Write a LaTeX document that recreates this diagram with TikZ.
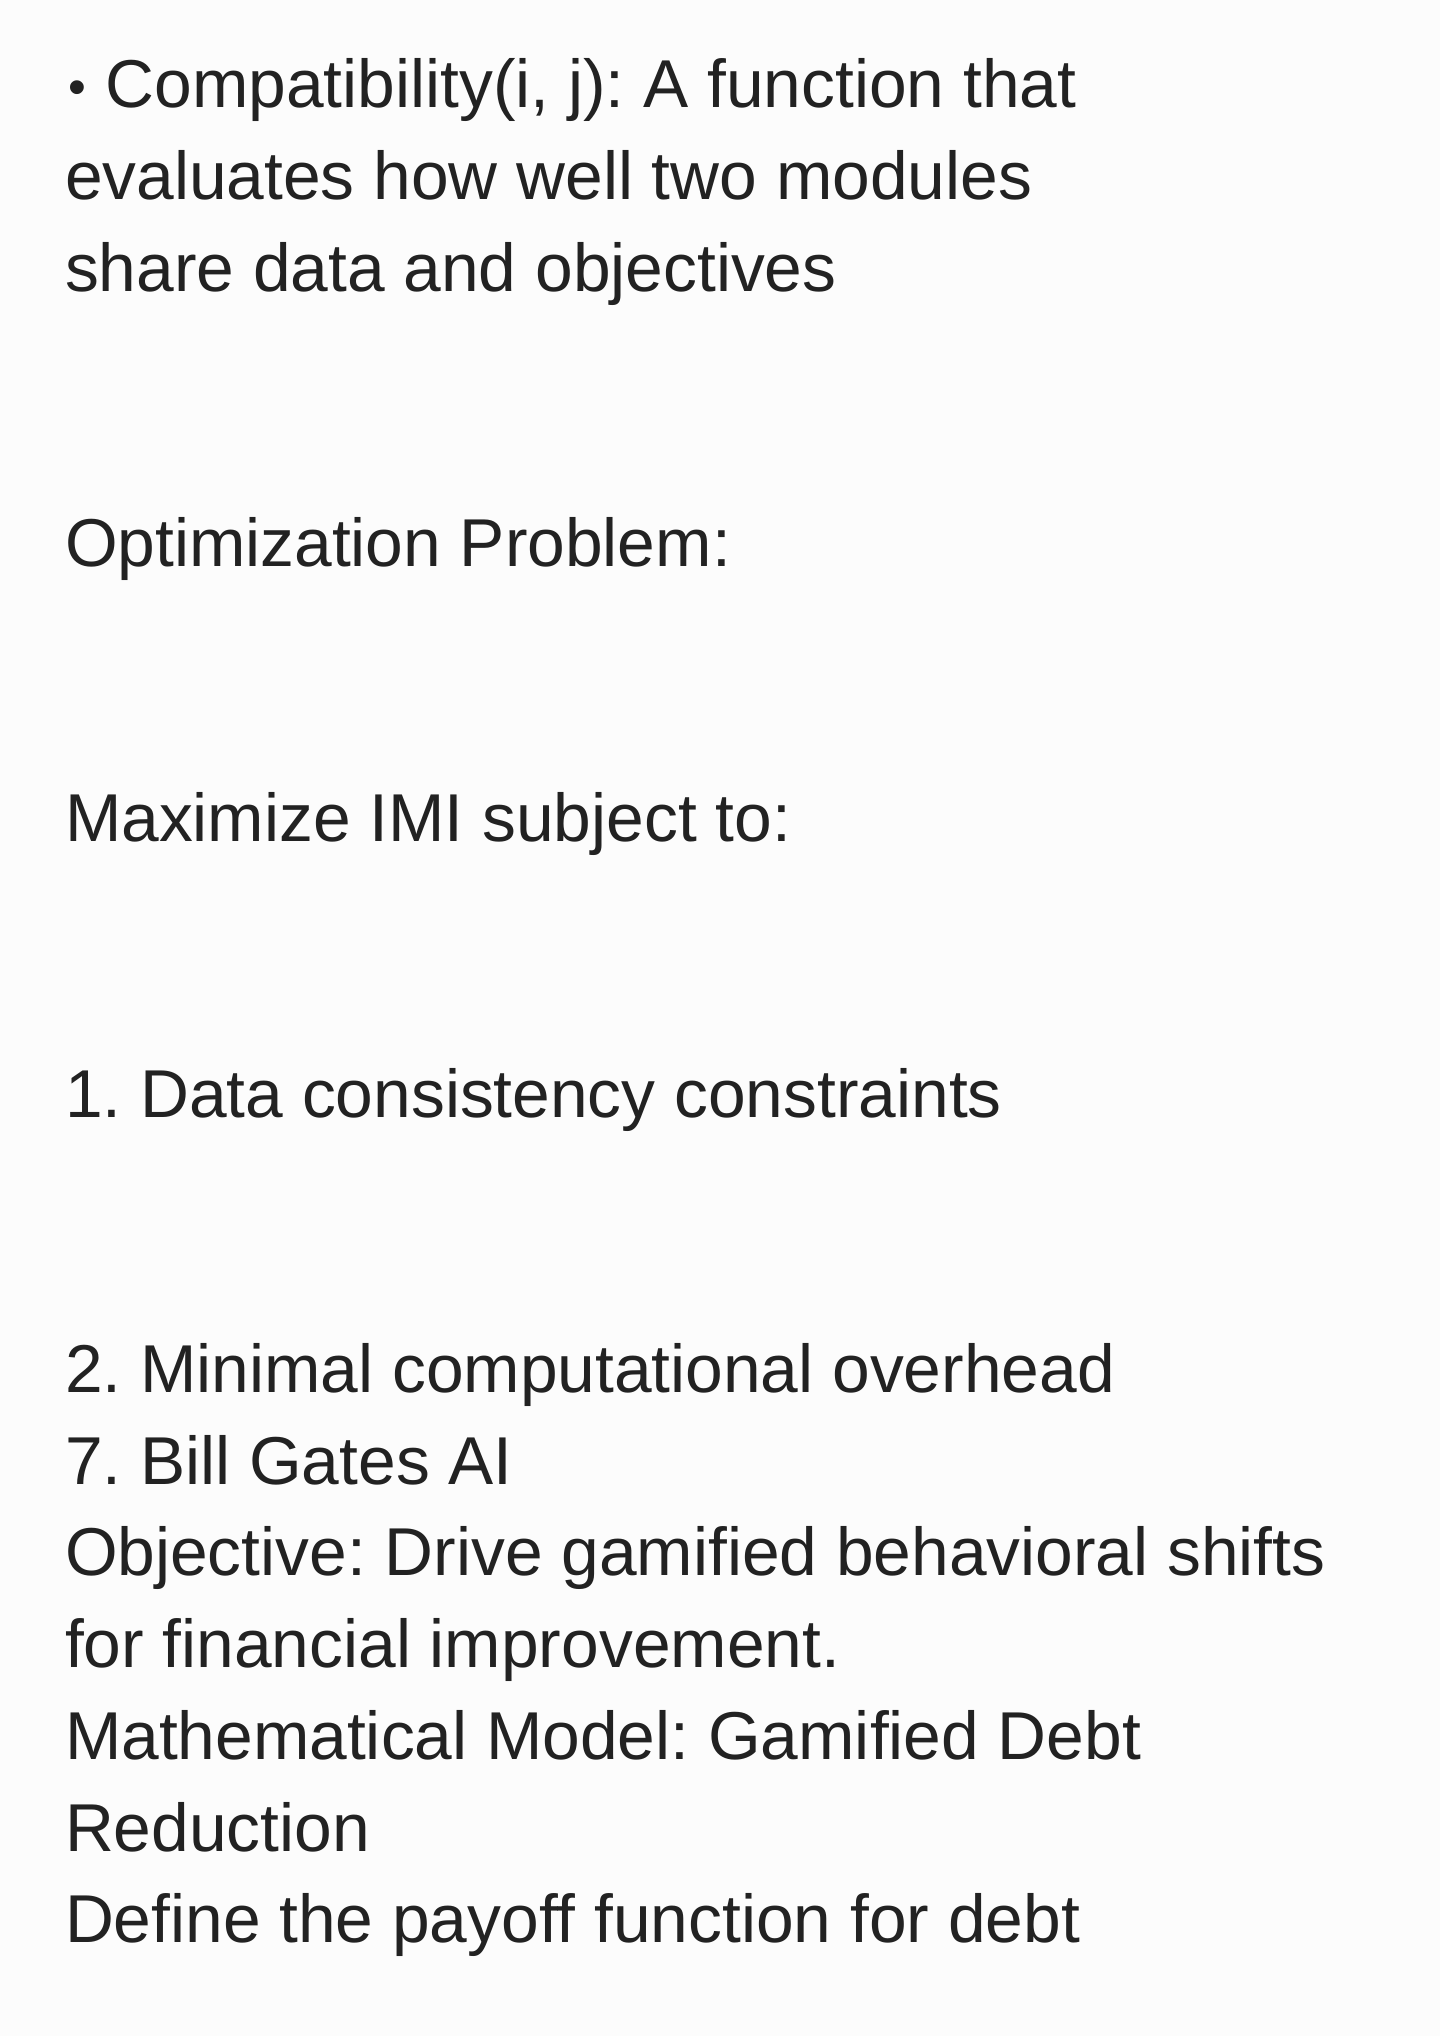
\documentclass[tikz,border=0pt]{standalone}
\usepackage{fontspec}
\setmainfont{Liberation Sans}
\frenchspacing
\definecolor{bgc}{HTML}{FCFCFC}
\definecolor{txt}{HTML}{222222}
\tikzset{
  line/.style={anchor=base west, inner sep=0pt, outer sep=0pt, text=txt,
    font=\fontsize{67.7pt}{91.75pt}\selectfont}
}
\begin{document}
\begin{tikzpicture}[x=1pt,y=1pt]
\useasboundingbox (0,0) rectangle (1440,2036);
\fill[bgc] (0,0) rectangle (1440,2036);
\def\X{65}
\node[line] (l1)  at (\X,{2036-108}) {\hspace{3pt}\raisebox{3pt}{\scalebox{0.75}{•}}\hspace{1pt} Compatibility(i, j): A function that};
\node[line] (l2)  at (\X,{2036-199.75}) {evaluates how well two modules};
\node[line] (l3)  at (\X,{2036-291.5}) {share data and objectives};
\node[line] (l4)  at (\X,{2036-566.75}) {Optimization Problem:};
\node[line] (l5)  at (\X,{2036-842}) {Maximize IMI subject to:};
\node[line] (l6)  at (\X,{2036-1117.25}) {1. Data consistency constraints};
\node[line] (l7)  at (\X,{2036-1392.5}) {2. Minimal computational overhead};
\node[line] (l8)  at (\X,{2036-1484.25}) {7. Bill Gates AI};
\node[line] (l9)  at (\X,{2036-1576}) {Objective: Drive gamified behavioral shifts};
\node[line] (l10) at (\X,{2036-1667.75}) {for financial improvement.};
\node[line] (l11) at (\X,{2036-1759.5}) {Mathematical Model: Gamified Debt};
\node[line] (l12) at (\X,{2036-1851.25}) {Reduction};
\node[line] (l13) at (\X,{2036-1943}) {Define the payoff function for debt};
\end{tikzpicture}
\end{document}
